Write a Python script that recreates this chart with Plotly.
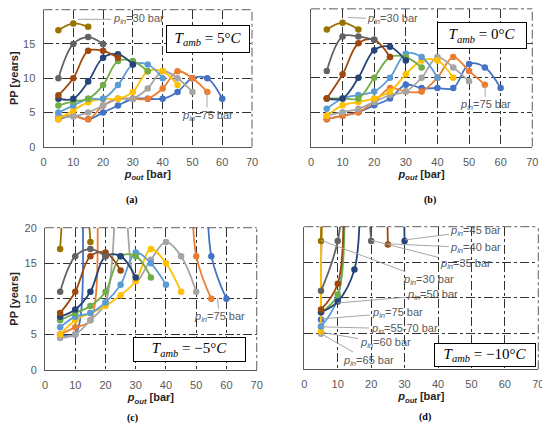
import plotly.graph_objects as go

P_OUT = [5, 10, 15, 20, 25, 30, 35, 40, 45, 50, 55, 60]
P_IN = [75, 70, 65, 60, 55, 50, 45, 40, 35, 30]
COLORS = ['#4472C4', '#ED7D31', '#A5A5A5', '#FFC000', '#5B9BD5',
          '#70AD47', '#264478', '#9E480E', '#636363', '#997300']
X_TICKS = [0, 10, 20, 30, 40, 50, 60, 70]
Y_TICKS = [0, 5, 10, 15, 20]

OFF = 40  # above the 20 yr axis limit, only the steep flanks show

# one row per P_IN entry, every row starts at p_out = 5 bar
PP_A = [  # T_amb = 5 C
    [4, 4.5, 4, 5, 6, 7, 7, 7, 8, 10, 10, 7],
    [4.5, 4.5, 4, 6, 7, 7, 7, 8.5, 11, 10, 8],
    [4.5, 4.4, 5, 6, 7, 7, 8.5, 11, 10, 8],
    [4, 5.3, 6.5, 7, 7, 8, 11, 11, 9],
    [5, 6, 7, 7, 9, 12, 12, 10],
    [6, 6.6, 7, 9, 12.5, 12.5, 11],
    [7, 7, 9.5, 13, 13.5, 12],
    [7.5, 10, 14, 14, 13],
    [10, 15, 16, 15],
    [17, 18, 17.5],
]
PP_B = [  # T_amb = 0 C
    [4, 4.5, 5, 6, 7, 9, 8.5, 8.5, 8.5, 12, 11.5, 8.5],
    [4, 4.5, 5, 6.5, 8.5, 8, 8, 10, 13, 11, 9],
    [4.5, 5, 5.5, 6.5, 7.5, 8, 10, 13, 11.5, 9.5],
    [4.5, 6, 6.5, 7, 8, 10.5, 12.5, 12.5, 10],
    [5.5, 7, 7.5, 8, 10, 13.5, 13, 10],
    [7, 7, 7, 10, 13, 13, 11.5],
    [7, 7, 10, 14, 14.5, 12.5],
    [7, 10.5, 15, 15.5, 13],
    [11, 16, 16, 15.5],
    [17, 18, 17],
]
PP_C = [  # T_amb = -5 C
    [5, 5, OFF, OFF, OFF, OFF, OFF, OFF, OFF, OFF, 16, 10],
    [5, 6, 7, OFF, OFF, OFF, OFF, OFF, OFF, 16, 10],
    [4.5, 5, 7, 9.5, OFF, 12.5, 15.5, 18, 16, 11],
    [5, 7, 8, 9, 10.5, 12.5, 17, 15, 11],
    [6, 7.5, 8, 9.5, 12, 16.5, 15, 12],
    [7, 8, 9, 11, 16, 16, 13],
    [7.5, 8.5, 11, 16, 16, 13],
    [8, 11, 16, 16.5, 14],
    [11, 16, 17, 16],
    [17, OFF, 18],
]
PP_D = [  # T_amb = -10 C
    [7, OFF, OFF, OFF, OFF, OFF, OFF, OFF, OFF, OFF, OFF, OFF],
    [6, OFF, OFF, OFF, OFF, OFF, OFF, OFF, OFF, OFF, OFF],
    [5, OFF, OFF, OFF, OFF, OFF, OFF, OFF, OFF, OFF],
    [5.3, OFF, OFF, OFF, OFF, OFF, OFF, OFF, OFF],
    [6, 10, OFF, OFF, OFF, OFF, OFF, OFF],
    [8, 10.5, OFF, OFF, OFF, OFF, OFF],
    [8, 9.5, 14, OFF, OFF, 18],
    [8.4, 12, OFF, OFF, 17.5],
    [11, 18, OFF, 18],
    [18, OFF, OFF],
]

PANELS = [PP_A, PP_B, PP_C, PP_D]
T_AMB = ['5', '0', '\u22125', '\u221210']
CAPTIONS = ['(a)', '(b)', '(c)', '(d)']

# the page body keeps its default 8px margin, so the figure is 8px smaller
W, H = 542, 423

# paper fractions of each plot area
DOMAINS = [
    ([0.0655, 0.4502], [0.6721, 0.9960]),
    ([0.5590, 0.9673], [0.6721, 0.9980]),
    ([0.0683, 0.4589], [0.1442, 0.4806]),
    ([0.5467, 0.9784], [0.1459, 0.4830]),
]
# T_amb box: centre (data units) and size (px)
BOXES = [(55.2, 15.7, 84, 28), (54.1, 16.2, 90, 27),
         (47.8, 2.9, 113, 25), (54.1, 2.0, 102, 24)]
CAPTION_POS = [(0.2288, 0.5461), (0.7786, 0.5461), (0.2306, 0.0300), (0.7694, 0.0330)]

# pin labels: panel, pressure text, head x, head y, tail dx, tail dy (px)
PIN_LABELS = [
    (0, '30', 11.6, 18.6, 60, 0),
    (0, '75', 54.9, 8.0, 0, 24),
    (1, '30', 11.7, 18.75, 45, 2),
    (1, '75', 55.1, 8.9, 0, 20),
    (2, '75', 57.0, 10.1, 2, 19),
    (3, '45', 30.1, 18.15, 71, -9),
    (3, '40', 25.0, 17.6, 88, 4),
    (3, '35', 20.0, 18.1, 94, 24),
    (3, '30', 5.0, 18.1, 107, 40),
    (3, '50', 10.0, 9.3, 95, -8),
    (3, '75', 5.0, 7.07, 76, -6),
    (3, '55-70', 5.0, 5.95, 83, 2),
    (3, '60', 5.0, 5.2, 64, 11),
    (3, '65', 5.0, 5.0, 47, 27),
]

SANS = 'Liberation Sans'
GRID = '#333333'


def sfx(k):
    return '' if k == 0 else str(k + 1)


fig = go.Figure()

for k, rows in enumerate(PANELS):
    for p_in, color, vals in zip(P_IN, COLORS, rows):
        fig.add_trace(go.Scatter(
            x=P_OUT[:len(vals)], y=vals,
            mode='lines+markers',
            name=f'p_in={p_in} bar',
            line=dict(color=color, width=1.8, shape='spline', smoothing=1),
            marker=dict(color=color, size=6.5),
            xaxis='x' + sfx(k), yaxis='y' + sfx(k),
            showlegend=False,
        ))

axis_style = dict(
    showgrid=True, gridcolor=GRID, griddash='dashdot', gridwidth=0.8,
    zeroline=False, showline=True, linecolor='#595959', linewidth=1,
    ticks='', ticklabelstandoff=5,
    tickfont=dict(family=SANS, size=11, color='#595959'),
)

layout_axes = {}
shapes = []
for k, (xd, yd) in enumerate(DOMAINS):
    s = sfx(k)
    layout_axes['xaxis' + s] = dict(
        domain=xd, anchor='y' + s, range=[0, 70], tickvals=X_TICKS,
        title=dict(text='<b><i>p</i><sub><i>out</i></sub> [bar]</b>',
                   font=dict(family=SANS, size=11, color='#262626'), standoff=2),
        **axis_style)
    layout_axes['yaxis' + s] = dict(
        domain=yd, anchor='x' + s, range=[0, 20], tickvals=Y_TICKS,
        showticklabels=k in (0, 2),
        title=dict(text='<b>PP [years]</b>' if k in (0, 2) else '',
                   font=dict(family=SANS, size=11, color='#262626'), standoff=4),
        **axis_style)
    # dash-dot frame on top and right, as in the Excel chart
    for x0, x1, y0, y1 in [(0, 1, 1, 1), (1, 1, 0, 1)]:
        shapes.append(dict(type='line', xref='x' + s + ' domain', yref='y' + s + ' domain',
                           x0=x0, x1=x1, y0=y0, y1=y1,
                           line=dict(color=GRID, width=0.8, dash='dashdot')))

annotations = []
for k, (bx, by, bw, bh) in enumerate(BOXES):
    annotations.append(dict(
        text=f'<i>T</i><sub><i>amb</i></sub> = {T_AMB[k]}\u00b0<i>C</i>',
        x=bx, y=by, xref='x' + sfx(k), yref='y' + sfx(k), showarrow=False,
        width=bw - 2, height=bh - 2, bgcolor='white', bordercolor='black',
        borderwidth=1, borderpad=0,
        font=dict(family='Liberation Serif', size=15, color='black')))

for k, (cx, cy) in enumerate(CAPTION_POS):
    annotations.append(dict(
        text=f'<b>{CAPTIONS[k]}</b>', x=cx, y=cy, xref='paper', yref='paper',
        xanchor='center', yanchor='middle', showarrow=False,
        font=dict(family='Liberation Serif', size=10, color='black')))

for k, p, hx, hy, dx, dy in PIN_LABELS:
    annotations.append(dict(
        text=f'<i>p</i><sub><i>in</i></sub>={p} bar',
        x=hx, y=hy, xref='x' + sfx(k), yref='y' + sfx(k),
        ax=dx, ay=dy, showarrow=True, arrowhead=0, arrowwidth=1,
        arrowcolor='#a6a6a6', standoff=0,
        font=dict(family=SANS, size=11, color='#595959')))

fig.update_layout(
    width=W, height=H,
    margin=dict(l=0, r=0, t=0, b=0),
    template='none',
    paper_bgcolor='white', plot_bgcolor='white',
    annotations=annotations,
    shapes=shapes,
    **layout_axes,
)

fig.write_html('out.html')
